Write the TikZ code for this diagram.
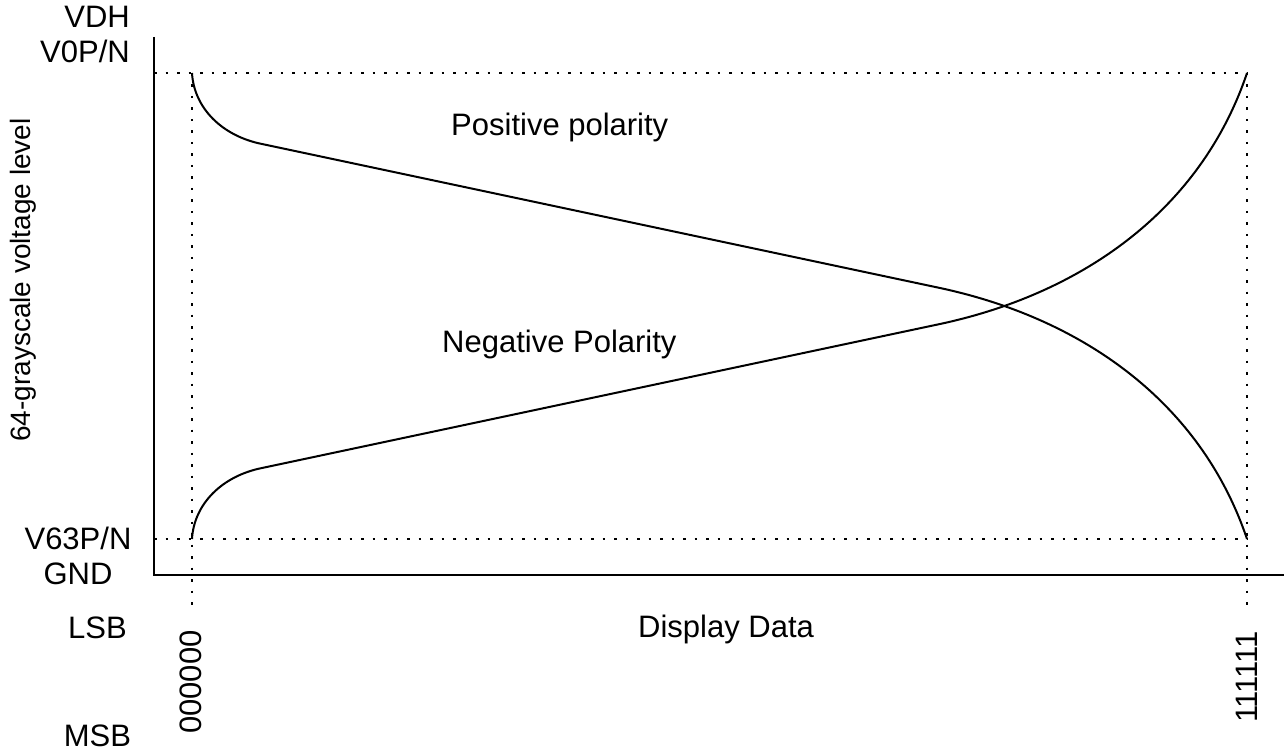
\documentclass[tikz,border=0pt]{standalone}
\usepackage{fontspec}
\setmainfont{Liberation Sans}
\usetikzlibrary{positioning,calc}

\begin{document}
\begin{tikzpicture}[
	x=1pt, y=-1pt,
	axisline/.style={line width=2pt},
	guide/.style={line width=2pt, dash pattern=on 2.5pt off 9pt},
	polcurve/.style={line width=2pt, line join=round},
	lbl/.style={font=\fontsize{31}{37}\selectfont, inner sep=0pt}
	]
	\useasboundingbox (0,0) rectangle (1284,751);
	
	\coordinate (O) at (154,575);
	\coordinate (TL) at (192,73);
	\coordinate (TR) at (1247,73);
	\coordinate (BL) at (192,539);
	\coordinate (BR) at (1247,539);
	
	% axes
	\draw[axisline] (154,37) -- (O) -- (1284,575);
	
	% dotted guides
	\draw[guide] (154,73) -- (TR);
	\draw[guide] (154,539) -- (BR);
	\draw[guide] (TL) -- (192,611);
	\draw[guide] (TR) -- (1247,611);
	
	% polarity curves
	\draw[polcurve] (TL) .. controls (194,108) and (222,136) .. (262,144)
	-- (940,288) .. controls (1080,318) and (1200,400) .. (BR);
	\draw[polcurve] (BL) .. controls (194,504) and (222,476) .. (262,468)
	-- (940,324) .. controls (1080,294) and (1200,212) .. (TR);
	
	\node[lbl, anchor=base east] (vdh) at (130,28) {VDH};
	\node[lbl, anchor=base east] (v0) at (130,63) {V0P/N};
	\node[lbl, anchor=base] (v63) at (78,549) {V63P/N};
	\node[lbl, anchor=base] (gnd) at (78,584) {GND};
	\node[lbl, anchor=base] (lsb) at (97.5,638) {LSB};
	\node[lbl, anchor=base] (msb) at (97.5,746) {MSB};
	\node[lbl, anchor=base, rotate=90] (d0) at (201,682) {000000};
	\node[lbl, anchor=base, rotate=90] (d63) at (1257,677) {111111};
	\node[lbl, anchor=base west] (data) at (638,637) {Display Data};
	\node[lbl, anchor=base west] (pos) at (451,136) {Positive polarity};
	\node[lbl, anchor=base west] (neg) at (442,352) {Negative Polarity};
	\node[lbl, font=\fontsize{28}{34}\selectfont, anchor=base, rotate=90] (ylab) at (30,280) {64-grayscale voltage level};
\end{tikzpicture}
\end{document}
